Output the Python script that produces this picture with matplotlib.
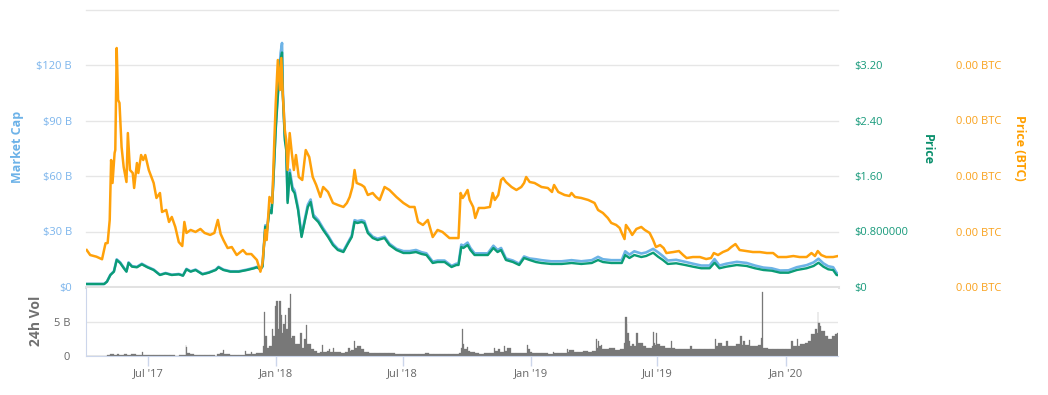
import matplotlib
matplotlib.use('Agg')
from matplotlib import pyplot as plt
import matplotlib.dates as mdates
import numpy as np
import pandas as pd

plt.rcParams['font.family'] = ['Open Sans', 'DejaVu Sans']

# Pris i BTC (satoshi)
btc_dates = [
    "2017-04-04", "2017-04-09", "2017-04-18", "2017-04-26", "2017-05-01", "2017-05-04", "2017-05-07", "2017-05-09",
    "2017-05-11", "2017-05-14", "2017-05-15", "2017-05-17", "2017-05-19", "2017-05-21", "2017-05-24", "2017-05-27",
    "2017-05-31", "2017-06-02", "2017-06-05", "2017-06-09", "2017-06-11", "2017-06-15", "2017-06-17", "2017-06-21",
    "2017-06-24", "2017-06-27", "2017-07-02", "2017-07-09", "2017-07-13", "2017-07-18", "2017-07-21", "2017-07-27",
    "2017-07-31", "2017-08-04", "2017-08-09", "2017-08-14", "2017-08-19", "2017-08-22", "2017-08-25", "2017-08-31",
    "2017-09-07", "2017-09-14", "2017-09-20", "2017-09-28", "2017-10-04", "2017-10-09", "2017-10-13", "2017-10-17",
    "2017-10-23", "2017-10-29", "2017-11-05", "2017-11-14", "2017-11-19", "2017-11-26", "2017-12-04", "2017-12-09",
    "2017-12-12", "2017-12-16", "2017-12-18", "2017-12-22", "2017-12-26", "2017-12-29", "2017-12-31", "2018-01-03",
    "2018-01-06", "2018-01-08", "2018-01-10", "2018-01-13", "2018-01-15", "2018-01-17", "2018-01-20", "2018-01-23",
    "2018-01-26", "2018-01-29", "2018-02-02", "2018-02-07", "2018-02-12", "2018-02-17", "2018-02-22", "2018-02-27",
    "2018-03-05", "2018-03-09", "2018-03-16", "2018-03-23", "2018-03-30", "2018-04-07", "2018-04-12", "2018-04-16",
    "2018-04-20", "2018-04-23", "2018-04-26", "2018-05-03", "2018-05-07", "2018-05-12", "2018-05-19", "2018-05-24",
    "2018-05-29", "2018-06-05", "2018-06-12", "2018-06-22", "2018-07-02", "2018-07-11", "2018-07-18", "2018-07-23",
    "2018-07-30", "2018-08-06", "2018-08-13", "2018-08-20", "2018-08-27", "2018-09-06", "2018-09-13", "2018-09-19",
    "2018-09-22", "2018-09-25", "2018-09-28", "2018-10-02", "2018-10-05", "2018-10-10", "2018-10-13", "2018-10-18",
    "2018-10-26", "2018-11-03", "2018-11-07", "2018-11-10", "2018-11-15", "2018-11-19", "2018-11-22", "2018-11-26",
    "2018-12-04", "2018-12-11", "2018-12-18", "2018-12-22", "2018-12-25", "2018-12-30", "2019-01-06", "2019-01-16",
    "2019-01-25", "2019-01-31", "2019-02-03", "2019-02-09", "2019-02-18", "2019-02-25", "2019-02-28", "2019-03-05",
    "2019-03-14", "2019-03-24", "2019-04-02", "2019-04-07", "2019-04-14", "2019-04-21", "2019-04-26", "2019-05-03",
    "2019-05-08", "2019-05-11", "2019-05-15", "2019-05-17", "2019-05-22", "2019-05-26", "2019-06-01", "2019-06-08",
    "2019-06-13", "2019-06-20", "2019-06-25", "2019-06-29", "2019-07-05", "2019-07-10", "2019-07-14", "2019-07-24",
    "2019-08-01", "2019-08-07", "2019-08-12", "2019-08-21", "2019-08-31", "2019-09-09", "2019-09-16", "2019-09-20",
    "2019-09-26", "2019-10-03", "2019-10-10", "2019-10-15", "2019-10-21", "2019-10-27", "2019-11-06", "2019-11-15",
    "2019-11-25", "2019-12-05", "2019-12-14", "2019-12-21", "2020-01-02", "2020-01-12", "2020-01-21", "2020-01-31",
    "2020-02-07", "2020-02-12", "2020-02-16", "2020-02-21", "2020-02-28", "2020-03-09", "2020-03-16",
]
btc_sats = [
    3330, 2880, 2730, 2500, 3940, 3960, 6040, 11440,
    9370, 12070, 12340, 21530, 16850, 16580, 12610, 10810,
    9460, 13870, 10540, 10270, 8920, 11170, 10270, 11890,
    11440, 11890, 10540, 9370, 8020, 8470, 6760, 6940,
    5860, 6310, 5410, 4050, 3690, 5860, 4870, 5140,
    4960, 5230, 4870, 4690, 4870, 6040, 4780, 4230,
    3510, 3600, 2880, 3330, 2970, 2970, 2430, 1380,
    2160, 5140, 4230, 8110, 7570, 13240, 16580, 20450,
    17750, 20630, 17480, 14140, 13240, 10540, 13870, 12070,
    10540, 11890, 9910, 9640, 12340, 11710, 9910, 9190,
    8110, 9010, 8560, 7570, 7390, 7210, 7570, 8110,
    9010, 10540, 9370, 9190, 9010, 8290, 8470, 8110,
    7840, 9010, 8740, 8110, 7570, 7210, 7210, 5860,
    5590, 6040, 4500, 5140, 4960, 4410, 4410, 4410,
    8470, 8020, 8290, 8740, 7840, 7210, 6220, 7120,
    7120, 7210, 8470, 7840, 8290, 9640, 9820, 9460,
    9010, 8740, 9010, 9370, 9910, 9460, 9370, 9010,
    8920, 8560, 9190, 8560, 8290, 8200, 8470, 8110,
    8020, 7840, 7570, 6940, 6670, 6220, 5770, 5590,
    5320, 4870, 4320, 5590, 5140, 4690, 5230, 5410,
    5140, 4870, 4230, 3600, 3780, 3510, 3060, 3150,
    3240, 2880, 2610, 2700, 2700, 2520, 2610, 3060,
    2880, 3150, 3330, 3600, 3870, 3330, 3240, 3150,
    3150, 3060, 3060, 2700, 2700, 2790, 2700, 2700,
    3060, 2790, 3240, 2880, 2700, 2700, 2790,
]

# Pris i USD og markedsverdi (milliarder USD)
price_dates = [
    "2017-04-04", "2017-04-29", "2017-05-03", "2017-05-08", "2017-05-13", "2017-05-17", "2017-05-22", "2017-05-27",
    "2017-05-31", "2017-06-03", "2017-06-08", "2017-06-15", "2017-06-22", "2017-06-30", "2017-07-09", "2017-07-18",
    "2017-07-26", "2017-08-04", "2017-08-14", "2017-08-20", "2017-08-25", "2017-08-31", "2017-09-07", "2017-09-17",
    "2017-09-26", "2017-10-06", "2017-10-10", "2017-10-17", "2017-10-27", "2017-11-08", "2017-11-20", "2017-11-30",
    "2017-12-04", "2017-12-09", "2017-12-12", "2017-12-16", "2017-12-18", "2017-12-22", "2017-12-25", "2017-12-27",
    "2017-12-31",
    "2018-01-03", "2018-01-07", "2018-01-09", "2018-01-10", "2018-01-13", "2018-01-15", "2018-01-17", "2018-01-20",
    "2018-01-24", "2018-01-27", "2018-02-01", "2018-02-06", "2018-02-11", "2018-02-15", "2018-02-19", "2018-02-23",
    "2018-03-02", "2018-03-09", "2018-03-16", "2018-03-23", "2018-03-30", "2018-04-07", "2018-04-14", "2018-04-19",
    "2018-04-23", "2018-04-27", "2018-05-03", "2018-05-07", "2018-05-12", "2018-05-19", "2018-05-26", "2018-06-05",
    "2018-06-12", "2018-06-22",
    "2018-07-02", "2018-07-11", "2018-07-20", "2018-07-28", "2018-08-04", "2018-08-13", "2018-08-20", "2018-08-30",
    "2018-09-09", "2018-09-16", "2018-09-19", "2018-09-23", "2018-09-26", "2018-10-02", "2018-10-06", "2018-10-12",
    "2018-10-19", "2018-10-31", "2018-11-08", "2018-11-14", "2018-11-19", "2018-11-26", "2018-12-06", "2018-12-15",
    "2018-12-22", "2018-12-30",
    "2019-01-08", "2019-01-16", "2019-01-30", "2019-02-14", "2019-02-28", "2019-03-14", "2019-03-29", "2019-04-07",
    "2019-04-14", "2019-04-26", "2019-05-11", "2019-05-16", "2019-05-22", "2019-05-29", "2019-06-08", "2019-06-15",
    "2019-06-25",
    "2019-07-02", "2019-07-09", "2019-07-16", "2019-07-28", "2019-08-10", "2019-08-21", "2019-09-02", "2019-09-14",
    "2019-09-21", "2019-09-28", "2019-10-08", "2019-10-23", "2019-11-06", "2019-11-18", "2019-11-30", "2019-12-12",
    "2019-12-24",
    "2020-01-05", "2020-01-17", "2020-01-31", "2020-02-10", "2020-02-17", "2020-02-24", "2020-03-02", "2020-03-09",
    "2020-03-14", "2020-03-16",
]
price_usd = [
    0.043, 0.043, 0.076, 0.173, 0.221, 0.389, 0.346, 0.274,
    0.221, 0.346, 0.293, 0.284, 0.327, 0.284, 0.245, 0.173,
    0.197, 0.173, 0.183, 0.163, 0.255, 0.221, 0.245, 0.183,
    0.206, 0.245, 0.284, 0.245, 0.221, 0.221, 0.245, 0.270,
    0.284, 0.255, 0.293, 0.869, 0.774, 1.110, 1.062, 1.398,
    2.263,
    2.743, 3.272, 3.380, 2.796, 2.119, 1.975, 1.211, 1.643,
    1.398, 1.355, 1.110, 0.721, 0.966, 1.153, 1.225, 1.009,
    0.937, 0.822, 0.721, 0.605, 0.533, 0.504, 0.634, 0.721,
    0.937, 0.922, 0.937, 0.922, 0.778, 0.706, 0.677, 0.706,
    0.605, 0.533,
    0.490, 0.490, 0.504, 0.476, 0.461, 0.346, 0.360, 0.360,
    0.288, 0.317, 0.317, 0.577, 0.562, 0.605, 0.533, 0.461,
    0.461, 0.461, 0.562, 0.504, 0.533, 0.389, 0.360, 0.317,
    0.418, 0.389,
    0.360, 0.346, 0.332, 0.332, 0.346, 0.332, 0.346, 0.389,
    0.360, 0.346, 0.346, 0.461, 0.418, 0.461, 0.432, 0.447,
    0.494,
    0.437, 0.389, 0.332, 0.342, 0.317, 0.293, 0.270, 0.270,
    0.350, 0.270, 0.293, 0.317, 0.303, 0.270, 0.245, 0.235,
    0.206,
    0.206, 0.245, 0.270, 0.303, 0.350, 0.293, 0.255, 0.245,
    0.173, 0.170,
]
mcap_b = [
    1.65, 1.65, 2.92, 6.64, 8.49, 14.94, 13.29, 10.52,
    8.49, 13.29, 11.25, 10.91, 12.56, 10.91, 9.41, 6.64,
    7.56, 6.64, 7.03, 6.26, 9.79, 8.49, 9.41, 7.03,
    7.91, 9.41, 10.91, 9.41, 8.49, 8.49, 9.41, 10.37,
    10.91, 9.79, 11.25, 33.37, 29.72, 42.62, 40.78, 53.68,
    87.58,
    106.0, 126.5, 131.9, 108.0, 81.8, 76.2, 46.7, 63.4,
    53.9, 52.2, 42.8, 27.8, 37.3, 44.5, 47.3, 39.0,
    36.1, 31.7, 27.8, 23.4, 20.6, 19.5, 24.4, 27.8,
    36.1, 35.6, 36.1, 35.6, 30.0, 27.2, 26.1, 27.2,
    23.4, 20.6,
    19.4, 19.4, 20.0, 18.8, 18.2, 13.7, 14.3, 14.3,
    11.4, 12.6, 12.6, 22.9, 22.3, 24.0, 21.1, 18.2,
    18.2, 18.2, 22.3, 20.0, 21.1, 15.4, 14.3, 12.6,
    16.5, 15.4,
    15.0, 14.5, 13.9, 13.9, 14.5, 13.9, 14.5, 16.3,
    15.0, 14.5, 14.5, 19.3, 17.5, 19.3, 18.1, 18.7,
    20.6,
    18.8, 16.7, 14.3, 14.7, 13.6, 12.6, 11.6, 11.6,
    15.1, 11.6, 12.6, 13.6, 13.0, 11.6, 10.5, 10.1,
    8.9,
    9.0, 10.7, 11.8, 13.3, 15.3, 12.8, 11.2, 10.7,
    7.6, 7.4,
]

# 24t volum (milliarder USD)
vol_dates = [
    "2017-04-03", "2017-04-22", "2017-05-03", "2017-05-08", "2017-05-13", "2017-05-17", "2017-05-21", "2017-05-27",
    "2017-06-01", "2017-06-06", "2017-06-13", "2017-06-19", "2017-06-22", "2017-06-24", "2017-07-03", "2017-07-10",
    "2017-07-18", "2017-07-25", "2017-08-01", "2017-08-08", "2017-08-15", "2017-08-24", "2017-08-25", "2017-08-26",
    "2017-08-30", "2017-09-05", "2017-09-13", "2017-09-21", "2017-09-28", "2017-10-05", "2017-10-08", "2017-10-12",
    "2017-10-17", "2017-10-18", "2017-10-26", "2017-11-02", "2017-11-09", "2017-11-17", "2017-11-18", "2017-11-26",
    "2017-11-27", "2017-12-02", "2017-12-06", "2017-12-11", "2017-12-13", "2017-12-14", "2017-12-15", "2017-12-16",
    "2017-12-18", "2017-12-22", "2017-12-25", "2017-12-27", "2017-12-30", "2018-01-01", "2018-01-03", "2018-01-05",
    "2018-01-07", "2018-01-09", "2018-01-11", "2018-01-13", "2018-01-15", "2018-01-18", "2018-01-20", "2018-01-22",
    "2018-01-24", "2018-01-27", "2018-02-01", "2018-02-04", "2018-02-06", "2018-02-09", "2018-02-12", "2018-02-14",
    "2018-02-19", "2018-02-24", "2018-02-28", "2018-03-05", "2018-03-07", "2018-03-09", "2018-03-14", "2018-03-17",
    "2018-03-19", "2018-03-23", "2018-03-25", "2018-04-03", "2018-04-09", "2018-04-14", "2018-04-16", "2018-04-18",
    "2018-04-22", "2018-04-24", "2018-04-26", "2018-05-02", "2018-05-07", "2018-05-14", "2018-05-22", "2018-05-29",
    "2018-06-05", "2018-06-12", "2018-06-20", "2018-06-27", "2018-07-04", "2018-07-11", "2018-07-18", "2018-07-25",
    "2018-08-02", "2018-08-08", "2018-08-15", "2018-08-23", "2018-08-30", "2018-09-06", "2018-09-13", "2018-09-19",
    "2018-09-22", "2018-09-24", "2018-09-25", "2018-09-27", "2018-10-01", "2018-10-03", "2018-10-05", "2018-10-12",
    "2018-10-19", "2018-10-26", "2018-11-03", "2018-11-09", "2018-11-11", "2018-11-15", "2018-11-18", "2018-11-23",
    "2018-11-25", "2018-11-28", "2018-12-03", "2018-12-10", "2018-12-17", "2018-12-26", "2018-12-28", "2018-12-30",
    "2019-01-03", "2019-01-10", "2019-01-17", "2019-01-25", "2019-02-01", "2019-02-03", "2019-02-08", "2019-02-14",
    "2019-02-21", "2019-02-23", "2019-02-25", "2019-03-03", "2019-03-10", "2019-03-17", "2019-03-24", "2019-03-30",
    "2019-04-04", "2019-04-05", "2019-04-07", "2019-04-09", "2019-04-11", "2019-04-13", "2019-04-16", "2019-04-23",
    "2019-05-01", "2019-05-08", "2019-05-14", "2019-05-16", "2019-05-18", "2019-05-19", "2019-05-21", "2019-05-23",
    "2019-05-26", "2019-05-29", "2019-06-01", "2019-06-03", "2019-06-06", "2019-06-11", "2019-06-15", "2019-06-20",
    "2019-06-24", "2019-06-25", "2019-06-26", "2019-06-28", "2019-06-29", "2019-07-01", "2019-07-05", "2019-07-12",
    "2019-07-20", "2019-07-22", "2019-07-26", "2019-08-02", "2019-08-10", "2019-08-17", "2019-08-19", "2019-08-24",
    "2019-08-31", "2019-09-07", "2019-09-14", "2019-09-21", "2019-09-23", "2019-09-26", "2019-10-01", "2019-10-08",
    "2019-10-10", "2019-10-15", "2019-10-22", "2019-10-28", "2019-10-30", "2019-11-01", "2019-11-03", "2019-11-09",
    "2019-11-11", "2019-11-13", "2019-11-18", "2019-11-22", "2019-11-26", "2019-11-28", "2019-11-29", "2019-12-07",
    "2019-12-14", "2019-12-21", "2019-12-28", "2020-01-01", "2020-01-09", "2020-01-11", "2020-01-17", "2020-01-19",
    "2020-01-21", "2020-01-28", "2020-02-02", "2020-02-07", "2020-02-12", "2020-02-15", "2020-02-16", "2020-02-17",
    "2020-02-19", "2020-02-21", "2020-02-26", "2020-03-02", "2020-03-07", "2020-03-11", "2020-03-15",
]
vol_b = [
    0.05, 0.05, 0.1, 0.34, 0.15, 0.3, 0.2, 0.25,
    0.15, 0.3, 0.1, 0.2, 0.6, 0.2, 0.1, 0.15,
    0.08, 0.15, 0.1, 0.05, 0.1, 1.6, 1.3, 0.4,
    0.3, 0.15, 0.1, 0.08, 0.1, 0.05, 0.3, 0.4,
    0.9, 0.3, 0.15, 0.1, 0.15, 0.8, 0.3, 0.6,
    0.3, 0.4, 0.5, 0.4, 1.5, 6.4, 2.0, 2.9,
    1.2, 1.5, 3.9, 2.9, 7.35, 8.1, 3.9, 8.1,
    6.1, 3.4, 4.7, 6.1, 3.9, 7.1, 9.1, 2.6,
    2.9, 1.7, 1.7, 3.4, 1.2, 2.45, 4.5, 1.7,
    1.1, 0.74, 0.5, 0.6, 1.57, 0.6, 0.7, 1.1,
    0.6, 1.2, 0.6, 0.5, 0.6, 1.2, 0.7, 0.9,
    2.2, 1.2, 1.5, 0.98, 0.6, 0.5, 0.4, 0.45,
    0.5, 0.4, 0.35, 0.3, 0.35, 0.3, 0.3, 0.35,
    0.4, 0.35, 0.3, 0.3, 0.3, 0.3, 0.35, 0.4,
    1.2, 4.0, 1.7, 1.1, 1.3, 0.8, 0.6, 0.4,
    0.35, 0.45, 0.4, 1.2, 0.7, 1.0, 0.6, 1.5,
    0.8, 1.2, 0.5, 0.5, 0.5, 1.6, 1.0, 0.6,
    0.5, 0.4, 0.4, 0.35, 0.64, 0.4, 0.4, 0.4,
    1.1, 0.6, 0.9, 0.6, 0.6, 0.7, 0.6, 0.7,
    2.45, 1.2, 2.2, 1.5, 1.57, 1.0, 1.0, 1.2,
    0.9, 1.1, 1.9, 5.7, 4.66, 3.4, 2.2, 1.5,
    1.7, 1.4, 3.4, 1.9, 1.9, 1.5, 1.2, 1.2,
    1.4, 3.5, 1.9, 1.6, 3.4, 1.8, 1.5, 1.2,
    2.2, 1.2, 1.1, 1.0, 1.1, 1.5, 1.0, 1.0,
    1.1, 1.0, 1.1, 2.45, 1.5, 1.9, 1.5, 2.2,
    1.4, 1.5, 1.7, 3.0, 1.6, 2.2, 1.57, 2.35,
    1.5, 1.5, 1.5, 1.57, 2.7, 9.4, 1.2, 1.1,
    1.0, 1.1, 1.1, 1.0, 2.2, 1.5, 2.45, 1.5,
    1.7, 1.9, 2.2, 3.2, 4.0, 3.4, 6.5, 4.8,
    4.4, 3.7, 2.9, 2.45, 2.9, 3.2, 3.4,
]

# x-akse
x_ticks = ["2017-07-01", "2018-01-01", "2018-07-01", "2019-01-01", "2019-07-01", "2020-01-01"]
x_labels = ["Jul '17", "Jan '18", "Jul '18", "Jan '19", "Jul '19", "Jan '20"]

mcap_ticks = [0, 30, 60, 90, 120]
mcap_labels = ["$0", "$30 B", "$60 B", "$90 B", "$120 B"]
price_ticks = [0, 0.8, 1.6, 2.4, 3.2]
price_labels = ["$0", "$0.800000", "$1.60", "$2.40", "$3.20"]
btc_ticks = [0, 0.00005, 0.0001, 0.00015, 0.0002]
vol_ticks = [0, 5]
vol_labels = ["0", "5 B"]

blaa = '#6db3e6'
gronn = '#0b9c76'
oransje = '#ffa10a'
graa = '#666666'
aksefarge = '#ccd6eb'
rutenett = '#e6e6e6'

W, H = 1048, 395
fig = plt.figure(figsize=(W / 100, H / 100), dpi=100)
ax = fig.add_axes([86 / W, 1 - 287 / H, 752 / W, 277.5 / H])
axv = fig.add_axes([86 / W, 1 - 356 / H, 752 / W, 68 / H])

xmin = pd.Timestamp("2017-04-03")
xmax = pd.Timestamp("2020-03-16")

p_dates = pd.to_datetime(price_dates)
b_dates = pd.to_datetime(btc_dates)

# hovedpanel
ax.plot(p_dates, mcap_b, color=blaa, lw=1.9, solid_joinstyle='round')
ax.set_ylim(0, 150)
ax.set_xlim(xmin, xmax)
ax.set_yticks(mcap_ticks)
ax.set_yticklabels(mcap_labels)
ax.tick_params(axis='y', length=0, pad=10, labelcolor='#7cb5ec', labelsize=8)
ax.tick_params(axis='x', bottom=False, labelbottom=False)
for y in mcap_ticks[1:] + [150]:
    ax.axhline(y, color=rutenett, lw=1, zorder=0, clip_on=False)
ax.axhline(0, color='#e2e2e2', lw=2.2, zorder=0, clip_on=False)
for s in ax.spines.values():
    s.set_visible(False)

ax_p = ax.twinx()
ax_p.plot(p_dates, price_usd, color=gronn, lw=1.7, solid_joinstyle='round')
ax_p.set_ylim(0, 4)
ax_p.set_yticks(price_ticks)
ax_p.set_yticklabels(price_labels)
ax_p.tick_params(axis='y', length=0, pad=11.5, labelcolor='#16997a', labelsize=8)

ax_b = ax.twinx()
ax_b.plot(b_dates, np.array(btc_sats) / 1e8, color=oransje, lw=1.8, solid_joinstyle='round')
ax_b.set_ylim(0, 0.00025)
ax_b.set_yticks(btc_ticks)
ax_b.set_yticklabels(["0.00 BTC"] * len(btc_ticks))
ax_b.tick_params(axis='y', length=0, pad=85, labelcolor='#f9a11b', labelsize=8)

for a in (ax_p, ax_b):
    a.set_xlim(xmin, xmax)
    for s in a.spines.values():
        s.set_visible(False)

# volumpanel
vd = mdates.date2num(pd.to_datetime(vol_dates))
bredder = np.append(np.diff(vd), 1.0)
axv.bar(vd, vol_b, width=bredder, align='edge', color='#787878', edgecolor='#787878', lw=0.2)
axv.set_xlim(xmin, xmax)
axv.set_ylim(0, 10)
axv.set_axisbelow(True)
axv.set_yticks(vol_ticks)
axv.set_yticklabels(vol_labels)
axv.yaxis.grid(True, color=rutenett, lw=1)
axv.tick_params(axis='y', length=0, pad=11.5, labelcolor=graa, labelsize=8)
axv.set_xticks(pd.to_datetime(x_ticks))
axv.set_xticklabels(x_labels)
axv.tick_params(axis='x', length=7, width=1, color=aksefarge, pad=2, labelcolor=graa, labelsize=8)
axv.spines['top'].set_visible(False)
axv.spines['right'].set_visible(False)
axv.spines['left'].set_color(aksefarge)
axv.spines['bottom'].set_color(aksefarge)

# aksetitler
fig.text(18 / W, 1 - 147 / H, 'Market Cap', rotation=90, ha='center', va='center',
         color='#6cb2e8', fontsize=9, fontweight='bold')
fig.text(36 / W, 1 - 321 / H, '24h Vol', rotation=90, ha='center', va='center',
         color='#707070', fontsize=10, fontweight='bold')
fig.text(927 / W, 1 - 149 / H, 'Price', rotation=270, ha='center', va='center',
         color='#0a8f6c', fontsize=9, fontweight='bold')
fig.text(1020 / W, 1 - 148 / H, 'Price (BTC)', rotation=270, ha='center', va='center',
         color='#ff9f00', fontsize=9, fontweight='bold')

fig.savefig('out.png', dpi=100, facecolor='white')
